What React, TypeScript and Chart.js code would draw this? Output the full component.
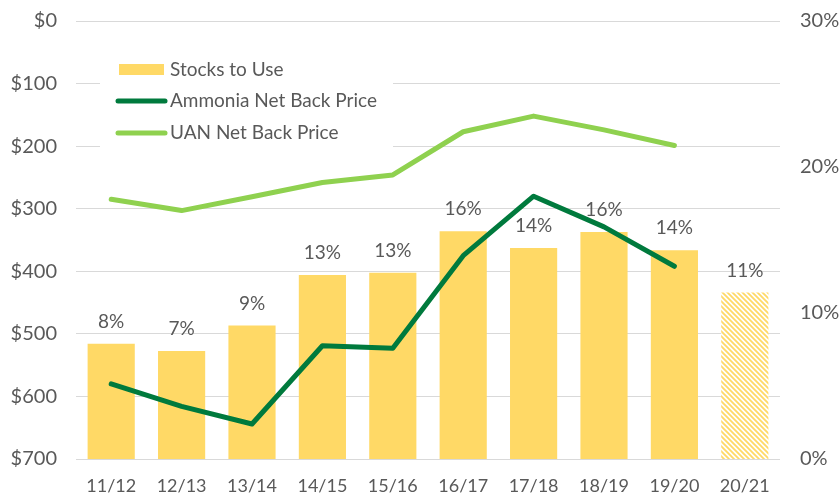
import React, { useEffect, useRef } from "react";
import { Chart, registerables } from "chart.js";

Chart.register(...registerables);

const categories = ["11/12", "12/13", "13/14", "14/15", "15/16", "16/17", "17/18", "18/19", "19/20", "20/21"];
const stocksToUse = [7.9, 7.4, 9.15, 12.6, 12.75, 15.6, 14.45, 15.55, 14.3, 11.4];
const ammoniaPrice = [580, 616, 644, 519, 523, 375, 280, 329, 392, null];
const uanPrice = [285, 303, 281, 258, 246, 177, 152, 174, 199, null];
const priceTicks = [0, 100, 200, 300, 400, 500, 600, 700];
const pctTicks = [0, 10, 20, 30];

const FONT = "Lato, 'Open Sans', sans-serif";
const GRAY = "#595959";
const YELLOW = "#FFD966";
const DARK_GREEN = "#007A3D";
const LIGHT_GREEN = "#8FD14F";

function makeHatch(): CanvasPattern | string {
  const c = document.createElement("canvas");
  const s = 5;
  c.width = s;
  c.height = s;
  const ctx = c.getContext("2d");
  if (!ctx) return YELLOW;
  ctx.fillStyle = "#ffffff";
  ctx.fillRect(0, 0, s, s);
  ctx.strokeStyle = YELLOW;
  ctx.lineWidth = 1.8;
  ctx.beginPath();
  ctx.moveTo(-1, -1);
  ctx.lineTo(s + 1, s + 1);
  ctx.moveTo(-1, s - 1);
  ctx.lineTo(1, s + 1);
  ctx.moveTo(s - 1, -1);
  ctx.lineTo(s + 1, 1);
  ctx.stroke();
  const p = ctx.createPattern(c, "repeat");
  return p || YELLOW;
}

const barLabelPlugin = {
  id: "barLabels",
  afterDatasetsDraw(chart: any) {
    const meta = chart.getDatasetMeta(0);
    const ctx = chart.ctx;
    ctx.save();
    ctx.font = `19px ${FONT}`;
    ctx.fillStyle = GRAY;
    ctx.textAlign = "center";
    ctx.textBaseline = "middle";
    meta.data.forEach((bar: any, i: number) => {
      const v = stocksToUse[i];
      ctx.fillText(`${Math.round(v)}%`, bar.x, bar.y - 22);
    });
    ctx.restore();
  },
};

const legendPlugin = {
  id: "insideLegend",
  afterDraw(chart: any) {
    const ctx = chart.ctx;
    ctx.save();
    ctx.fillStyle = "#ffffff";
    ctx.fillRect(100, 45, 293, 110);
    const items = [
      { label: "Stocks to Use", type: "box", color: YELLOW, y: 70 },
      { label: "Ammonia Net Back Price", type: "line", color: DARK_GREEN, y: 101 },
      { label: "UAN Net Back Price", type: "line", color: LIGHT_GREEN, y: 133 },
    ];
    ctx.font = `19px ${FONT}`;
    ctx.textBaseline = "middle";
    ctx.textAlign = "left";
    items.forEach((it) => {
      if (it.type === "box") {
        ctx.fillStyle = it.color;
        ctx.fillRect(119, it.y - 6, 45, 11);
      } else {
        ctx.strokeStyle = it.color;
        ctx.lineWidth = 5;
        ctx.lineCap = "round";
        ctx.beginPath();
        ctx.moveTo(118, it.y);
        ctx.lineTo(165, it.y);
        ctx.stroke();
      }
      ctx.fillStyle = GRAY;
      ctx.fillText(it.label, 170, it.y);
    });
    ctx.restore();
  },
};

function fixVertical(width: number) {
  return (scale: any) => {
    scale.width = width;
    scale.paddingTop = 0;
    scale.paddingBottom = 0;
  };
}

export default function App() {
  const ref = useRef<HTMLCanvasElement | null>(null);

  useEffect(() => {
    if (!ref.current) return;
    const hatch = makeHatch();
    const barColors = stocksToUse.map((_, i) => (i === categories.length - 1 ? hatch : YELLOW));
    const chart = new Chart(ref.current, {
      type: "bar",
      data: {
        labels: categories,
        datasets: [
          {
            type: "bar",
            label: "Stocks to Use",
            data: stocksToUse,
            backgroundColor: barColors as any,
            yAxisID: "y1",
            barPercentage: 0.67,
            categoryPercentage: 1,
            order: 3,
          },
          {
            type: "line",
            label: "Ammonia Net Back Price",
            data: ammoniaPrice as any,
            borderColor: DARK_GREEN,
            backgroundColor: DARK_GREEN,
            borderWidth: 5,
            pointRadius: 0,
            borderCapStyle: "round",
            borderJoinStyle: "round",
            tension: 0,
            yAxisID: "y",
            order: 1,
          },
          {
            type: "line",
            label: "UAN Net Back Price",
            data: uanPrice as any,
            borderColor: LIGHT_GREEN,
            backgroundColor: LIGHT_GREEN,
            borderWidth: 5,
            pointRadius: 0,
            borderCapStyle: "round",
            borderJoinStyle: "round",
            tension: 0,
            yAxisID: "y",
            order: 2,
          },
        ],
      },
      options: {
        animation: false,
        responsive: false,
        maintainAspectRatio: false,
        layout: { padding: { top: 21, left: 0, right: 0, bottom: 0 } },
        plugins: {
          legend: { display: false },
          tooltip: { enabled: false },
        },
        scales: {
          x: {
            grid: { display: false, drawTicks: false },
            border: { display: false },
            ticks: {
              color: GRAY,
              font: { family: FONT, size: 18 },
              padding: 16,
              maxRotation: 0,
              autoSkip: false,
            },
            afterFit(scale: any) {
              scale.height = 39;
              scale.paddingLeft = 0;
              scale.paddingRight = 0;
            },
          },
          y: {
            position: "left",
            reverse: true,
            min: 0,
            max: 700,
            afterBuildTicks(scale: any) {
              scale.ticks = priceTicks.map((v) => ({ value: v }));
            },
            grid: { color: "#D9D9D9", lineWidth: 1, drawTicks: false },
            border: { display: false },
            ticks: {
              color: GRAY,
              font: { family: FONT, size: 20 },
              padding: 19,
              callback: (v: any) => `$${v}`,
            },
            afterFit: fixVertical(76),
          },
          y1: {
            position: "right",
            min: 0,
            max: 30,
            afterBuildTicks(scale: any) {
              scale.ticks = pctTicks.map((v) => ({ value: v }));
            },
            grid: { display: false, drawTicks: false },
            border: { display: false },
            ticks: {
              color: GRAY,
              font: { family: FONT, size: 20 },
              padding: 20,
              callback: (v: any) => `${v}%`,
            },
            afterFit: fixVertical(60),
          },
        },
      },
      plugins: [barLabelPlugin, legendPlugin],
    });
    return () => chart.destroy();
  }, []);

  return (
    <div style={{ position: "fixed", left: 0, top: 0, width: 840, height: 498, background: "#ffffff" }}>
      <canvas ref={ref} width={840} height={498} style={{ width: 840, height: 498, display: "block" }} />
    </div>
  );
}
